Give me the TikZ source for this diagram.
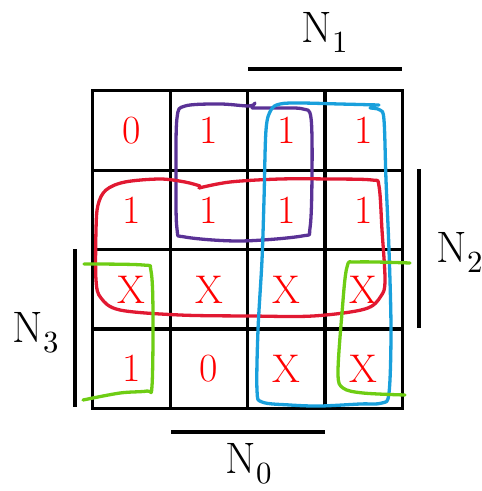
\documentclass[tikz,border=0pt]{standalone}
\usepackage{fontspec}
\usepackage{unicode-math}
\setmathfont{Latin Modern Math}
\begin{document}
\begin{tikzpicture}[x=1pt,y=-1pt,
  cell/.style={draw=black,line width=3pt,minimum width=77.5pt,minimum height=79.25pt,inner sep=0pt},
  val/.style={text=red,font=\fontsize{40}{48}\selectfont},
  bar/.style={line width=4pt},
  lab/.style={anchor=base,inner sep=0pt,font=\fontsize{44}{52}\selectfont},
  loop/.style={line width=3.3pt,line cap=round,line join=round},
  ]
\definecolor{lpurple}{RGB}{90,50,150}
\definecolor{lred}{RGB}{225,25,50}
\definecolor{lblue}{RGB}{25,160,220}
\definecolor{lgreen}{RGB}{110,205,20}
\useasboundingbox (0,0) rectangle (482,491);
% cells
\foreach \r/\y in {1/130.5,2/210,3/289.5,4/368.5}{
  \foreach \c/\x in {1/131.5,2/209,3/286.5,4/363.5}{
    \node[cell] (c\r\c) at (\x,\y) {};
  }
}
\node[val] (t11) at (c11) {0};
\node[val] (t12) at (c12) {1};
\node[val] (t13) at (c13) {1};
\node[val] (t14) at (c14) {1};
\node[val] (t21) at (c21) {1};
\node[val] (t22) at (c22) {1};
\node[val] (t23) at (c23) {1};
\node[val] (t24) at (c24) {1};
\node[val] (t31) at (c31) {X};
\node[val] (t32) at (c32) {X};
\node[val] (t33) at (c33) {X};
\node[val] (t34) at (c34) {X};
\node[val] (t41) at (c41) {1};
\node[val] (t42) at (c42) {0};
\node[val] (t43) at (c43) {X};
\node[val] (t44) at (c44) {X};
% bars
\coordinate (b1a) at (248,69);  \coordinate (b1b) at (402,69);
\coordinate (b0a) at (171,432); \coordinate (b0b) at (325,432);
\coordinate (b2a) at (419,169); \coordinate (b2b) at (419,328);
\coordinate (b3a) at (75,249);  \coordinate (b3b) at (75,407);
\draw[bar] (b1a) -- (b1b);
\draw[bar] (b0a) -- (b0b);
\draw[bar] (b2a) -- (b2b);
\draw[bar] (b3a) -- (b3b);
% labels
\node[lab] (n1) at (325,42) {$\mathrm{N}_1$};
\node[lab] (n0) at (249,473) {$\mathrm{N}_0$};
\node[lab] (n2) at (460,262) {$\mathrm{N}_2$};
\node[lab] (n3) at (36,342) {$\mathrm{N}_3$};
% loops
\draw[loop,lpurple] plot[smooth,tension=0.55] coordinates {(252,108) (280,108) (303,109) (311,118) (312,175) (310,228) (302,236) (240,241) (185,237) (177,229) (176,175) (177,118) (185,106) (220,104) (249,106) (255,103)};
\draw[loop,lred] plot[smooth,tension=0.55] coordinates {(199,188) (230,182) (280,179) (330,179) (372,180) (379,186) (382,230) (385,280) (381,296) (365,309) (313,316) (250,316) (180,315) (120,310) (101,298) (96,280) (96,230) (98,205) (106,190) (125,182) (160,179) (185,182) (200,186)};
\draw[loop,lblue] plot[smooth,tension=0.55] coordinates {(379,105) (340,104) (300,103) (280,104) (271,110) (266,130) (264,200) (262,260) (258,330) (257,390) (262,402) (290,405) (320,406) (360,404) (382,403) (389,393) (391,330) (389,250) (386,180) (384,120) (380,110) (370,108)};
\draw[loop,lgreen] plot[smooth,tension=0.55] coordinates {(84,264) (143,265) (151,271) (153,313) (152,386) (147,391) (120,393) (83,400)};
\draw[loop,lgreen] plot[smooth,tension=0.55] coordinates {(410,263) (357,262) (347,267) (342,313) (338,373) (343,388) (363,393) (405,395)};
\end{tikzpicture}
\end{document}
